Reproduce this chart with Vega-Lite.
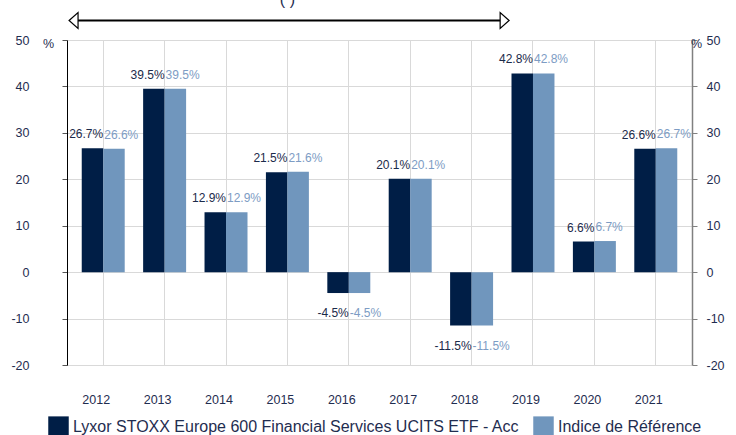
{
  "$schema": "https://vega.github.io/schema/vega-lite/v6.json",
  "autosize": "none",
  "width": 625,
  "height": 325,
  "padding": {"left": 67, "top": 40, "right": 44, "bottom": 70},
  "background": "white",
  "config": {
    "font": "Liberation Sans",
    "view": {"stroke": null},
    "axis": {"labelFont": "Liberation Sans", "titleFont": "Liberation Sans"}
  },
  "datasets": {
    "returns": [
      {"year": "2012", "series": "Lyxor STOXX Europe 600 Financial Services UCITS ETF - Acc", "value": 26.7, "label": "26.7%"},
      {"year": "2012", "series": "Indice de Référence", "value": 26.6, "label": "26.6%"},
      {"year": "2013", "series": "Lyxor STOXX Europe 600 Financial Services UCITS ETF - Acc", "value": 39.5, "label": "39.5%"},
      {"year": "2013", "series": "Indice de Référence", "value": 39.5, "label": "39.5%"},
      {"year": "2014", "series": "Lyxor STOXX Europe 600 Financial Services UCITS ETF - Acc", "value": 12.9, "label": "12.9%"},
      {"year": "2014", "series": "Indice de Référence", "value": 12.9, "label": "12.9%"},
      {"year": "2015", "series": "Lyxor STOXX Europe 600 Financial Services UCITS ETF - Acc", "value": 21.5, "label": "21.5%"},
      {"year": "2015", "series": "Indice de Référence", "value": 21.6, "label": "21.6%"},
      {"year": "2016", "series": "Lyxor STOXX Europe 600 Financial Services UCITS ETF - Acc", "value": -4.5, "label": "-4.5%"},
      {"year": "2016", "series": "Indice de Référence", "value": -4.5, "label": "-4.5%"},
      {"year": "2017", "series": "Lyxor STOXX Europe 600 Financial Services UCITS ETF - Acc", "value": 20.1, "label": "20.1%"},
      {"year": "2017", "series": "Indice de Référence", "value": 20.1, "label": "20.1%"},
      {"year": "2018", "series": "Lyxor STOXX Europe 600 Financial Services UCITS ETF - Acc", "value": -11.5, "label": "-11.5%"},
      {"year": "2018", "series": "Indice de Référence", "value": -11.5, "label": "-11.5%"},
      {"year": "2019", "series": "Lyxor STOXX Europe 600 Financial Services UCITS ETF - Acc", "value": 42.8, "label": "42.8%"},
      {"year": "2019", "series": "Indice de Référence", "value": 42.8, "label": "42.8%"},
      {"year": "2020", "series": "Lyxor STOXX Europe 600 Financial Services UCITS ETF - Acc", "value": 6.6, "label": "6.6%"},
      {"year": "2020", "series": "Indice de Référence", "value": 6.7, "label": "6.7%"},
      {"year": "2021", "series": "Lyxor STOXX Europe 600 Financial Services UCITS ETF - Acc", "value": 26.6, "label": "26.6%"},
      {"year": "2021", "series": "Indice de Référence", "value": 26.7, "label": "26.7%"}
    ],
    "arrow": [
      {"year": "2012", "end": "2019", "y": 54.2}
    ],
    "heads": [
      {"year": "2012", "y": 54.2, "dir": "left"},
      {"year": "2019", "y": 54.2, "dir": "right"}
    ],
    "note": [
      {"year": "2015", "y": 57.5, "text": "( )"}
    ]
  },
  "layer": [
    {
      "data": {"name": "returns"},
      "mark": {"type": "bar", "clip": false},
      "encoding": {
        "x": {
          "field": "year", "type": "nominal", "title": null,
          "scale": {"domain": ["2012","2013","2014","2015","2016","2017","2018","2019","2020","2021"], "paddingInner": 0.3, "paddingOuter": 0.24},
          "axis": {"title": null, "domain": false, "ticks": false, "tickSize": 0, "grid": true, "gridColor": "#d9d9d9", "gridWidth": 1, "labelAngle": 0, "labelFontSize": 12.5, "labelColor": "#1f2d50", "labelPadding": 28, "labelOffset": -7}
        },
        "xOffset": {
          "field": "series", "type": "nominal",
          "scale": {"domain": ["Lyxor STOXX Europe 600 Financial Services UCITS ETF - Acc", "Indice de Référence"], "paddingInner": 0, "paddingOuter": 0}
        },
        "y": {
          "field": "value", "type": "quantitative",
          "scale": {"domain": [-20, 50], "nice": false, "zero": false},
          "axis": {"orient": "left", "values": [-20,-10,0,10,20,30,40,50], "labelExpr": "'' + datum.value", "title": "%", "titleAngle": 0, "titleX": -19, "titleY": 3, "titleAlign": "center", "titleBaseline": "middle", "titleFontSize": 12.5, "titleFontWeight": "normal", "titleColor": "#1f2d50", "domainColor": "#000000", "domainWidth": 1, "tickColor": "#555555", "tickSize": 5, "grid": true, "gridColor": "#d9d9d9", "gridWidth": 1, "labelFontSize": 12.5, "labelColor": "#1f2d50", "labelPadding": 33}
        },
        "color": {
          "field": "series", "type": "nominal",
          "scale": {"domain": ["Lyxor STOXX Europe 600 Financial Services UCITS ETF - Acc", "Indice de Référence"], "range": ["#001e46", "#7096bd"]},
          "legend": {"title": null, "orient": "none", "legendX": -19, "legendY": 376, "direction": "horizontal", "symbolType": "square", "symbolSize": 420, "symbolStrokeWidth": 0, "labelFontSize": 16, "labelColor": "#1f2d50", "labelOffset": 4, "columnPadding": 13, "labelLimit": 0, "padding": 0}
        }
      }
    },
    {
      "data": {"name": "returns"},
      "mark": {"type": "bar", "opacity": 0},
      "encoding": {
        "x": {"field": "year", "type": "nominal", "title": null},
        "y": {
          "field": "value", "type": "quantitative",
          "axis": {"orient": "right", "values": [-20,-10,0,10,20,30,40,50], "labelExpr": "'' + datum.value", "title": "%", "titleAngle": 0, "titleX": 4, "titleY": 3, "titleAlign": "center", "titleBaseline": "middle", "titleFontSize": 12.5, "titleFontWeight": "normal", "titleColor": "#1f2d50", "domainColor": "#808080", "domainWidth": 1.5, "tickColor": "#808080", "tickSize": 5, "grid": false, "labelFontSize": 12.5, "labelColor": "#1f2d50", "labelPadding": 9}
        }
      }
    },
    {
      "mark": {"type": "rule", "color": "#000000", "strokeWidth": 1},
      "encoding": {"y": {"datum": 0, "type": "quantitative", "axis": null}}
    },
    {
      "data": {"name": "returns"},
      "transform": [{"filter": "datum.series !== 'Indice de Référence' && datum.value >= 0"}],
      "mark": {"type": "text", "align": "right", "baseline": "alphabetic", "dy": -10, "dx": 0, "fontSize": 12, "color": "#1b2a4a"},
      "encoding": {
        "x": {"field": "year", "type": "nominal", "title": null},
        "y": {"field": "value", "type": "quantitative", "axis": null},
        "text": {"field": "label"}
      }
    },
    {
      "data": {"name": "returns"},
      "transform": [{"filter": "datum.series !== 'Indice de Référence' && datum.value < 0"}],
      "mark": {"type": "text", "align": "right", "baseline": "alphabetic", "dy": 24, "dx": 0, "fontSize": 12, "color": "#1b2a4a"},
      "encoding": {
        "x": {"field": "year", "type": "nominal", "title": null},
        "y": {"field": "value", "type": "quantitative", "axis": null},
        "text": {"field": "label"}
      }
    },
    {
      "data": {"name": "returns"},
      "transform": [{"filter": "datum.series === 'Indice de Référence' && datum.value >= 0"}],
      "mark": {"type": "text", "align": "left", "baseline": "alphabetic", "dy": -10, "dx": 1, "fontSize": 12, "color": "#7d9cc4"},
      "encoding": {
        "x": {"field": "year", "type": "nominal", "title": null},
        "y": {"field": "value", "type": "quantitative", "axis": null},
        "text": {"field": "label"}
      }
    },
    {
      "data": {"name": "returns"},
      "transform": [{"filter": "datum.series === 'Indice de Référence' && datum.value < 0"}],
      "mark": {"type": "text", "align": "left", "baseline": "alphabetic", "dy": 24, "dx": 1, "fontSize": 12, "color": "#7d9cc4"},
      "encoding": {
        "x": {"field": "year", "type": "nominal", "title": null},
        "y": {"field": "value", "type": "quantitative", "axis": null},
        "text": {"field": "label"}
      }
    },
    {
      "data": {"name": "arrow"},
      "mark": {"type": "rule", "color": "#000000", "strokeWidth": 2, "clip": false},
      "encoding": {
        "x": {"field": "year", "type": "nominal", "bandPosition": -0.1, "title": null},
        "x2": {"field": "end", "bandPosition": -0.2},
        "y": {"field": "y", "type": "quantitative", "axis": null}
      }
    },
    {
      "data": {"name": "heads"},
      "transform": [{"filter": "datum.dir === 'left'"}],
      "mark": {"type": "point", "shape": "M -0.56 0 L 0.56 -1 L 0.56 1 Z", "size": 256, "filled": true, "fill": "#ffffff", "stroke": "#000000", "strokeWidth": 1.2, "opacity": 1, "clip": false},
      "encoding": {
        "x": {"field": "year", "type": "nominal", "bandPosition": -0.19, "title": null},
        "y": {"field": "y", "type": "quantitative", "axis": null}
      }
    },
    {
      "data": {"name": "heads"},
      "transform": [{"filter": "datum.dir === 'right'"}],
      "mark": {"type": "point", "shape": "M 0.56 0 L -0.56 -1 L -0.56 1 Z", "size": 256, "filled": true, "fill": "#ffffff", "stroke": "#000000", "strokeWidth": 1.2, "opacity": 1, "clip": false},
      "encoding": {
        "x": {"field": "year", "type": "nominal", "bandPosition": -0.16, "title": null},
        "y": {"field": "y", "type": "quantitative", "axis": null}
      }
    },
    {
      "data": {"name": "note"},
      "mark": {"type": "text", "align": "center", "baseline": "alphabetic", "fontSize": 16, "color": "#1f2d50", "clip": false},
      "encoding": {
        "x": {"field": "year", "type": "nominal", "title": null},
        "y": {"field": "y", "type": "quantitative", "axis": null},
        "text": {"field": "text"}
      }
    }
  ],
  "resolve": {"axis": {"y": "independent"}}
}
